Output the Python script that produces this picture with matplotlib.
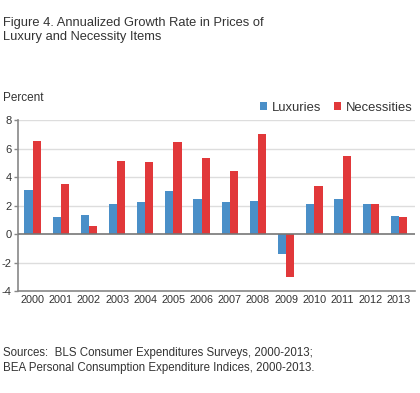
import numpy as np
import matplotlib
matplotlib.use("Agg")
import matplotlib.pyplot as plt

plt.rcParams['font.family'] = ['Liberation Sans', 'DejaVu Sans']

years = ['2000', '2001', '2002', '2003', '2004', '2005', '2006',
         '2007', '2008', '2009', '2010', '2011', '2012', '2013']
luxuries = [3.09, 1.22, 1.36, 2.10, 2.27, 2.99, 2.43, 2.22, 2.29, -1.43, 2.08, 2.43, 2.08, 1.29]
necessities = [6.53, 3.53, 0.56, 5.12, 5.08, 6.46, 5.36, 4.40, 7.04, -3.02, 3.39, 5.50, 2.08, 1.19]

blue = '#4a8fc8'
red = '#e1383a'
text_col = '#333333'

fig = plt.figure(figsize=(4.2, 3.93), dpi=100)
ax = fig.add_axes([0.044, 0.2595, 0.944, 0.435])

x = np.arange(len(years))
w = 0.29
ax.bar(x - w / 2, luxuries, w, color=blue, label='Luxuries', zorder=3)
ax.bar(x + w / 2, necessities, w, color=red, label='Necessities', zorder=3)

ax.set_xlim(-0.5, 13.57)
ax.set_ylim(-4, 8)
ax.set_yticks([-4, -2, 0, 2, 4, 6, 8])
ax.set_yticklabels(['-4', '-2', '0', '2', '4', '6', '8'])
ax.set_xticks(x)
ax.set_xticklabels(years)
ax.tick_params(axis='y', length=3, width=1, color='#888888', labelsize=8,
               pad=2, labelcolor=text_col)
ax.tick_params(axis='x', length=0, labelsize=7.8, pad=3, labelcolor=text_col)

for v in [-2, 2, 4, 6, 8]:
    ax.axhline(v, color='#dddddd', lw=1, zorder=1)
ax.axhline(0, color='#777777', lw=1.2, zorder=4)

for s in ['top', 'right']:
    ax.spines[s].set_visible(False)
ax.spines['left'].set_color('#888888')
ax.spines['bottom'].set_color('#888888')
ax.spines['left'].set_linewidth(1.2)
ax.spines['bottom'].set_linewidth(1.2)

leg = ax.legend(loc='lower right', bbox_to_anchor=(1.01, 1.0), ncol=2, frameon=False,
                fontsize=9.4, handlelength=0.55, handleheight=0.55, handletextpad=0.35,
                columnspacing=1.0, borderaxespad=0.1)
for t in leg.get_texts():
    t.set_color(text_col)

fig.text(0.007, 0.958, 'Figure 4. Annualized Growth Rate in Prices of\nLuxury and Necessity Items',
         fontsize=9.3, va='top', ha='left', color=text_col, linespacing=1.3)
fig.text(0.007, 0.75, 'Percent', fontsize=8.5, va='center', ha='left', color=text_col)
fig.text(0.007, 0.118, 'Sources:  BLS Consumer Expenditures Surveys, 2000-2013;\nBEA Personal Consumption Expenditure Indices, 2000-2013.',
         fontsize=8.3, va='top', ha='left', color=text_col, linespacing=1.35)

fig.savefig('out.png', dpi=100)
